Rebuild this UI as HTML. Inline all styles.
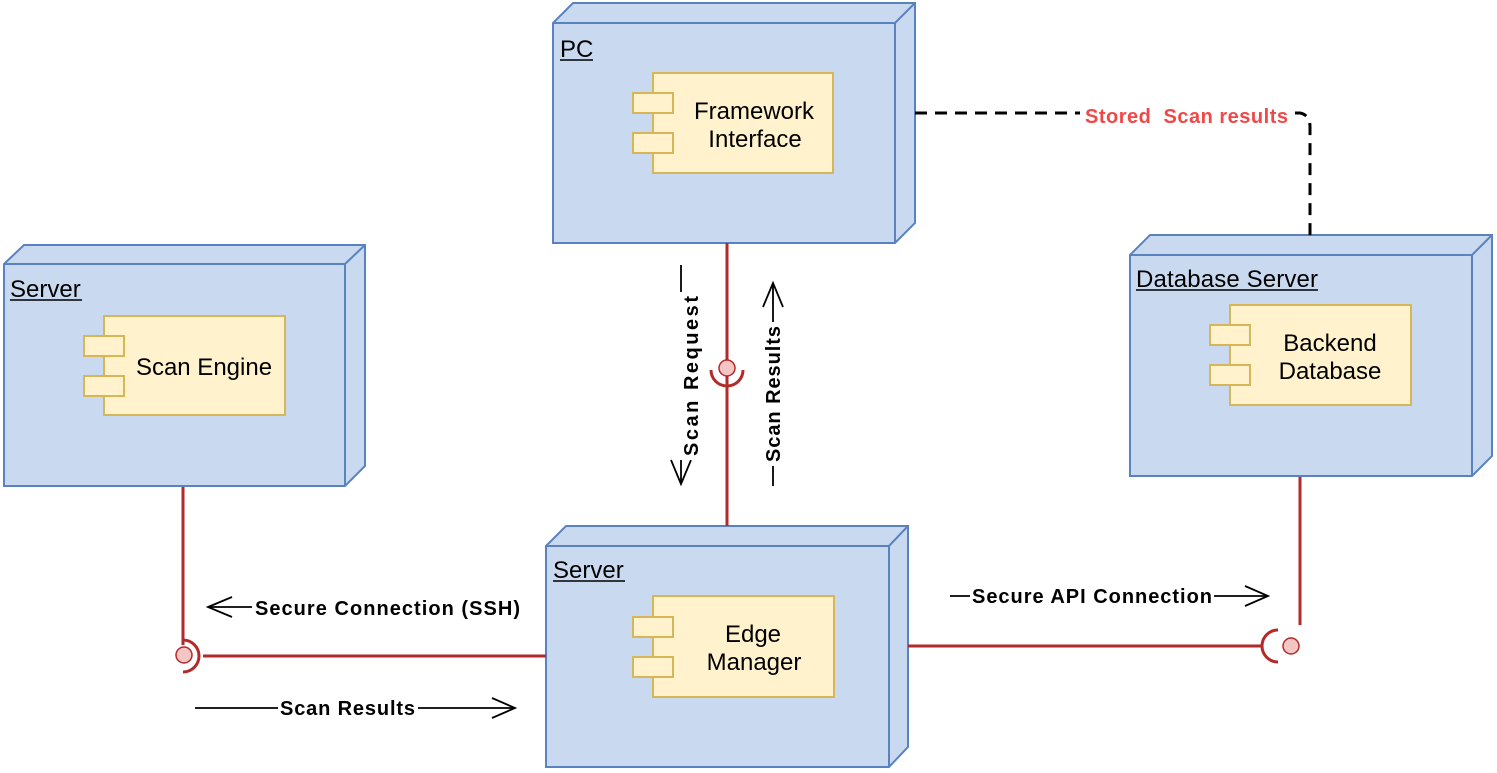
<!DOCTYPE html>
<html><head><meta charset="utf-8"><style>
html,body{margin:0;padding:0;background:#fff;}
svg{display:block;}
text{font-family:"Liberation Sans",Arial,sans-serif;}
</style></head><body>
<svg width="1497" height="773" viewBox="0 0 1497 773" xmlns="http://www.w3.org/2000/svg">
<g fill="#c9daf0" stroke="#5b82c0" stroke-width="2">
<path d="M553 23 L573 3 L915 3 L915 223 L895 243 L553 243 Z"/>
<path d="M553 23 L895 23 L915 3 M895 23 L895 243" fill="none"/>
<path d="M4 264 L24 245 L365 245 L365 466 L345 486 L4 486 Z"/>
<path d="M4 264 L345 264 L365 245 M345 264 L345 486" fill="none"/>
<path d="M546 546 L566 526 L908 526 L908 747 L889 767 L546 767 Z"/>
<path d="M546 546 L889 546 L908 526 M889 546 L889 767" fill="none"/>
<path d="M1130 255 L1150 235 L1492 235 L1492 456 L1472 476 L1130 476 Z"/>
<path d="M1130 255 L1472 255 L1492 235 M1472 255 L1472 476" fill="none"/>
</g>
<g fill="#fff2cc" stroke="#d6b656" stroke-width="2">
<rect x="653" y="73" width="180" height="100"/>
<rect x="633" y="93" width="40" height="20"/><rect x="633" y="133" width="40" height="20"/>
<rect x="104" y="316" width="181" height="99"/>
<rect x="84" y="336" width="40" height="20"/><rect x="84" y="376" width="40" height="20"/>
<rect x="653" y="596" width="181" height="101"/>
<rect x="633" y="617" width="40" height="20"/><rect x="633" y="657" width="40" height="20"/>
<rect x="1230" y="305" width="181" height="100"/>
<rect x="1210" y="325" width="40" height="20"/><rect x="1210" y="365" width="40" height="20"/>
</g>
<g font-size="24" fill="#000">
<text x="560" y="57">PC</text><line x1="560" y1="60" x2="593" y2="60" stroke="#000" stroke-width="1.5"/>
<text x="10" y="297">Server</text><line x1="10" y1="300" x2="82" y2="300" stroke="#000" stroke-width="1.5"/>
<text x="553" y="578">Server</text><line x1="553" y1="581" x2="625" y2="581" stroke="#000" stroke-width="1.5"/>
<text x="1136" y="287" textLength="182">Database Server</text><line x1="1136" y1="290" x2="1318" y2="290" stroke="#000" stroke-width="1.5"/>
<g text-anchor="middle">
<text x="754" y="119">Framework</text><text x="755" y="147">Interface</text>
<text x="204" y="375">Scan Engine</text>
<text x="753" y="642">Edge</text><text x="754" y="670">Manager</text>
<text x="1330" y="351">Backend</text><text x="1330" y="379">Database</text>
</g>
</g>
<g stroke="#b22a2a" stroke-width="3" fill="none">
<line x1="183" y1="487" x2="183" y2="645"/>
<line x1="203" y1="656" x2="546" y2="656"/>
<path d="M183 640 A16 16 0 0 1 183 672" />
<line x1="727" y1="243" x2="727" y2="360"/>
<line x1="727" y1="376" x2="727" y2="526"/>
<path d="M711 370 A16 16 0 0 0 743 370"/>
<line x1="908" y1="646" x2="1262" y2="646"/>
<path d="M1278 630 A16 16 0 0 0 1278 662"/>
<line x1="1300" y1="477" x2="1300" y2="625"/>
</g>
<g fill="#f4c5c5" stroke="#b22a2a" stroke-width="1.5">
<circle cx="184" cy="655" r="8"/>
<circle cx="727" cy="368" r="8"/>
<circle cx="1291" cy="646" r="8"/>
</g>
<path d="M915 113 L1300 113 Q1310 115 1310 127 L1310 236" stroke="#000" stroke-width="3" stroke-dasharray="12,8" fill="none"/>
<rect x="1080" y="100" width="212" height="28" fill="#fff"/>
<text x="1085" y="123" font-size="20" font-weight="bold" fill="#f04848" textLength="203">Stored&#160;&#160;Scan&#160;results</text>
<g stroke="#000" stroke-width="1.8" fill="none">
<line x1="208" y1="607" x2="252" y2="607"/><path d="M232 597 L208 607 L232 617"/>
<line x1="195" y1="708" x2="515" y2="708"/><path d="M492 698 L515 708 L492 718"/>
<line x1="950" y1="596" x2="1268" y2="596"/><path d="M1245 586 L1268 596 L1245 606"/>
<line x1="681" y1="265" x2="681" y2="484"/><path d="M671 460 L681 484 L691 460"/>
<line x1="773" y1="283" x2="773" y2="486"/><path d="M763 307 L773 283 L783 307"/>
</g>
<g font-size="20" font-weight="bold" fill="#000">
<rect x="253" y="594" width="268" height="26" fill="#fff"/>
<text x="255" y="615" textLength="265">Secure Connection (SSH)</text>
<rect x="278" y="695" width="140" height="26" fill="#fff"/>
<text x="280" y="715" textLength="135">Scan Results</text>
<rect x="970" y="583" width="244" height="26" fill="#fff"/>
<text x="972" y="603" textLength="240">Secure API Connection</text>
<g transform="translate(686,376) rotate(-90)"><rect x="-84" y="-8" width="168" height="26" fill="#fff"/><text x="0" y="12" text-anchor="middle" textLength="160">Scan Request</text></g>
<g transform="translate(768,394) rotate(-90)"><rect x="-72" y="-8" width="144" height="26" fill="#fff"/><text x="0" y="12" text-anchor="middle" textLength="136">Scan Results</text></g>
</g>
</svg>
</body></html>
